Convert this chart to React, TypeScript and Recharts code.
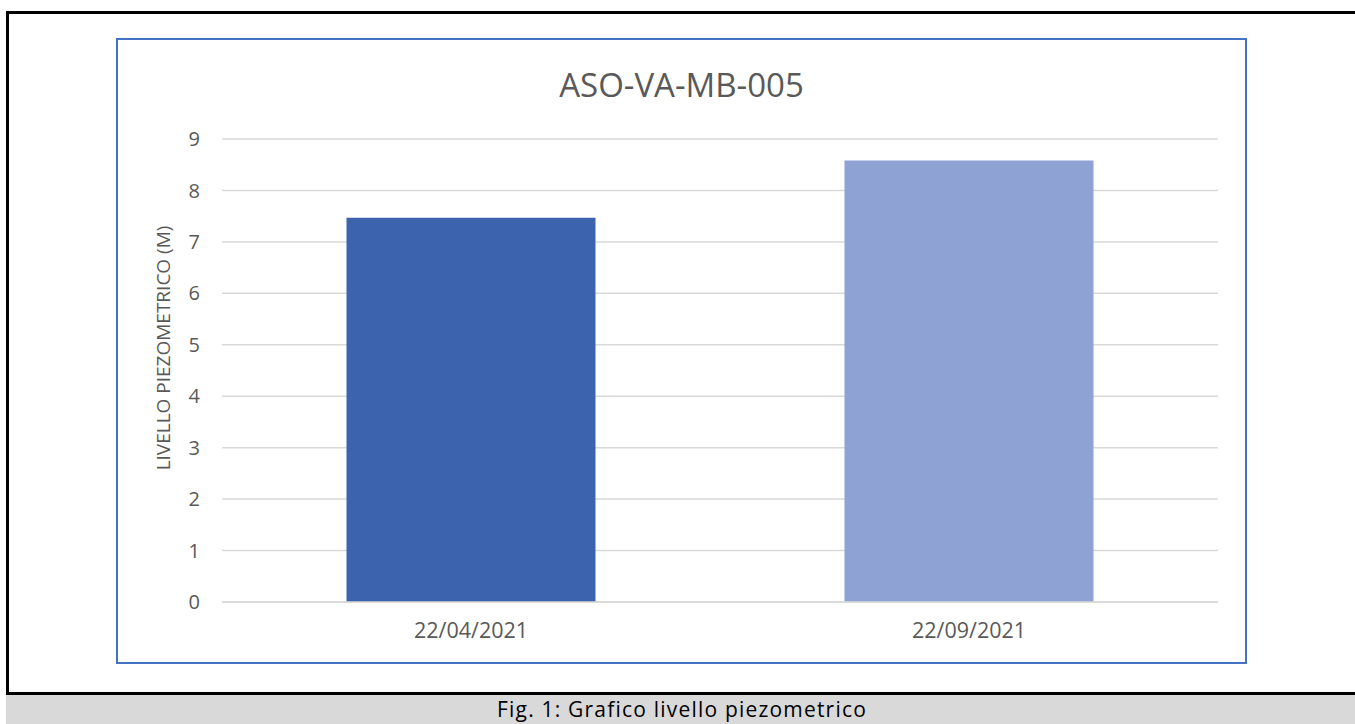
import { Bar, BarChart, CartesianGrid, Cell, XAxis, YAxis } from "recharts";

const dates = ["22/04/2021", "22/09/2021"];
const levels = [7.47, 8.58];
const barColors = ["#3c63ad", "#8fa2d4"];
const yTicks = [0, 1, 2, 3, 4, 5, 6, 7, 8, 9];

const FONT = "'Open Sans', 'Liberation Sans', sans-serif";
const GREY = "#595959";

export default function App() {
  const data = dates.map((d, i) => ({ date: d, level: levels[i] }));

  return (
    <div style={{ position: "absolute", left: 0, top: 0, width: 1355, height: 724, overflow: "hidden", background: "#fff", fontFamily: FONT }}>
      {/* outer frame */}
      <div style={{ position: "absolute", left: 6, top: 11, width: 1400, height: 800, borderLeft: "3px solid #000", borderTop: "3px solid #000" }} />
      {/* caption strip */}
      <div style={{ position: "absolute", left: 6, top: 692, width: 1400, height: 40, borderTop: "3px solid #000", background: "#d9d9d9" }} />
      <div style={{ position: "absolute", left: 9, top: 695, width: 1346, textAlign: "center", fontSize: 21, lineHeight: "28px", letterSpacing: 1.2, color: "#000" }}>
        Fig. 1: Grafico livello piezometrico
      </div>

      {/* chart box */}
      <div style={{ position: "absolute", left: 116, top: 38, width: 1127, height: 622, border: "2px solid #4472c4", background: "#fff" }}>
        <div style={{ position: "absolute", left: 0, top: 25, width: 1127, textAlign: "center", fontSize: 33, color: GREY, lineHeight: "40px" }}>
          ASO-VA-MB-005
        </div>
        <BarChart
          width={1127}
          height={622}
          data={data}
          margin={{ top: 99, right: 27, left: 0, bottom: 0 }}
          barCategoryGap="25%"
        >
          <CartesianGrid vertical={false} stroke="#d9d9d9" strokeWidth={1.5} />
          <XAxis
            dataKey="date"
            height={60}
            axisLine={{ stroke: "#d9d9d9", strokeWidth: 1.5 }}
            tickLine={false}
            tickSize={0}
            tickMargin={21}
            tick={{ fill: GREY, fontSize: 21.5, fontFamily: FONT }}
          />
          <YAxis
            width={104}
            domain={[0, 9]}
            ticks={yTicks}
            interval={0}
            axisLine={false}
            tickLine={false}
            tickSize={0}
            tickMargin={22}
            tick={{ fill: GREY, fontSize: 20, fontFamily: FONT }}
            label={{
              content: () => (
                <text
                  x={45}
                  y={308}
                  transform="rotate(-90 45 308)"
                  textAnchor="middle"
                  dominantBaseline="central"
                  fill={GREY}
                  fontSize={19}
                  fontFamily={FONT}
                >
                  LIVELLO PIEZOMETRICO (M)
                </text>
              ),
            }}
          />
          <Bar dataKey="level" isAnimationActive={false}>
            {data.map((_, i) => (
              <Cell key={i} fill={barColors[i]} />
            ))}
          </Bar>
        </BarChart>
      </div>
    </div>
  );
}
